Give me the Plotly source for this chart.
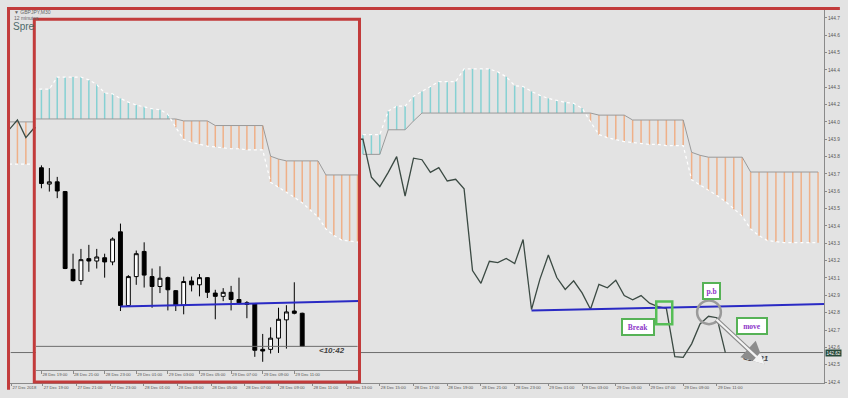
import plotly.graph_objects as go

# ---------------- data ----------------
# bar index: 0 = 27 Dec 19:00, one bar = 30 minutes
left_k = [-4, -3, -2, -1]
left_close = [144.040, 144.102, 143.990, 144.053]
pre_k = [38, 39, 40, 41, 42, 43, 44, 45, 46, 47]
pre_close = [143.98, 143.74, 143.68, 143.77, 143.87, 143.62, 143.86, 143.85, 143.77, 143.80]

candle_k = list(range(48, 82))
c_open = [143.820, 143.711, 143.726, 143.661, 143.141, 143.066, 143.213, 143.197, 143.219, 143.191,
          143.392, 142.900, 143.093, 143.261, 143.093, 143.027, 143.086, 142.999, 142.902, 143.064,
          143.038, 143.086, 142.983, 142.961, 142.988, 142.940, 142.918, 142.911, 142.607, 142.607,
          142.682, 142.804, 142.863, 142.848]
c_high = [143.836, 143.818, 143.759, 143.665, 143.246, 143.278, 143.305, 143.278, 143.246, 143.355,
          143.447, 143.103, 143.267, 143.322, 143.147, 143.162, 143.093, 143.003, 143.093, 143.093,
          143.110, 143.090, 143.005, 143.016, 143.031, 143.086, 142.929, 142.913, 142.710, 142.754,
          142.885, 142.902, 143.055, 142.852]
c_low = [143.683, 143.661, 143.617, 143.143, 143.060, 143.038, 143.125, 143.147, 143.086, 143.169,
         142.863, 142.896, 143.038, 143.020, 142.885, 142.983, 142.867, 142.863, 142.841, 142.994,
         142.961, 142.950, 142.808, 142.929, 142.867, 142.907, 142.815, 142.557, 142.524, 142.579,
         142.583, 142.612, 142.841, 142.623]
c_close = [143.715, 143.726, 143.665, 143.147, 143.066, 143.206, 143.197, 143.224, 143.191, 143.344,
           142.900, 143.093, 143.246, 143.103, 143.027, 143.082, 143.005, 142.902, 143.060, 143.038,
           143.086, 142.988, 142.961, 142.988, 142.940, 142.918, 142.907, 142.601, 142.596, 142.682,
           142.808, 142.857, 142.848, 142.627]

cloud_k = [-4, -3, -2, -1] + list(range(38, 93))
span_a = [143.822, 143.822, 143.822, 143.822,
          144.009, 144.009, 144.009, 144.158, 144.190, 144.190, 144.252, 144.283, 144.314, 144.345,
          144.345, 144.345, 144.426, 144.426, 144.426, 144.426, 144.407, 144.376, 144.320, 144.314,
          144.283, 144.258, 144.239, 144.227, 144.214, 144.208, 144.177, 144.090, 144.009, 143.990,
          143.978, 143.965, 143.959, 143.953, 143.947, 143.947, 143.940, 143.940, 143.940, 143.723,
          143.691, 143.654, 143.623, 143.586, 143.536, 143.492, 143.411, 143.368, 143.337, 143.330,
          143.324, 143.324, 143.324, 143.324, 143.324]
span_b = [144.090, 144.090, 144.090, 144.090,
          143.884, 143.884, 143.884, 144.040, 144.040, 144.040, 144.096, 144.146, 144.146, 144.146,
          144.146, 144.146, 144.146, 144.146, 144.146, 144.146, 144.146, 144.146, 144.146, 144.146,
          144.146, 144.146, 144.146, 144.146, 144.146, 144.146, 144.146, 144.146, 144.133, 144.133,
          144.133, 144.133, 144.102, 144.102, 144.102, 144.102, 144.102, 144.102, 144.102, 143.897,
          143.878, 143.866, 143.866, 143.866, 143.866, 143.866, 143.772, 143.772, 143.772, 143.772,
          143.772, 143.772, 143.772, 143.772, 143.772]

price_now = 142.627
trend_k = [58, 93]
trend_p = [142.893, 142.935]

price_ticks = [142.44, 142.55, 142.66, 142.77, 142.88, 142.99, 143.10, 143.21, 143.32, 143.43, 143.54,
               143.65, 143.76, 143.87, 143.98, 144.09, 144.20, 144.31, 144.42, 144.53, 144.64, 144.75]
main_tick_k = [-3.7, 0, 4, 8, 12, 16, 20, 24, 28, 32, 36, 40, 44, 48, 52, 56, 60, 64, 68, 72, 76, 80]
main_tick_text = ["27 Dec 2018", "27 Dec 19:00", "27 Dec 21:00", "27 Dec 23:00", "28 Dec 01:00",
                  "28 Dec 03:00", "28 Dec 05:00", "28 Dec 07:00", "28 Dec 09:00", "28 Dec 11:00",
                  "28 Dec 13:00", "28 Dec 15:00", "28 Dec 17:00", "28 Dec 19:00", "28 Dec 21:00",
                  "28 Dec 23:00", "29 Dec 01:00", "29 Dec 03:00", "29 Dec 05:00", "29 Dec 07:00",
                  "29 Dec 09:00", "29 Dec 11:00"]
inset_tick_k = [48, 52, 56, 60, 64, 68, 72, 76, 80]
inset_tick_text = ["28 Dec 19:00", "28 Dec 21:00", "28 Dec 23:00", "29 Dec 01:00", "29 Dec 03:00",
                   "29 Dec 05:00", "29 Dec 07:00", "29 Dec 09:00", "29 Dec 11:00"]

# ---------------- layout helpers ----------------
W, H = 848, 398
ML, MR, MT, MB = 10, 17, 10, 8
PW = W - ML - MR
PH = H - MT - MB


def px_x(x):
    return (x - ML) / PW


def px_y(y):
    return (H - MB - y) / PH


BG = "#e3e3e3"
RED = "#c23b3b"
TEAL = "#86d1d3"
ORANGE = "#efb088"

fig = go.Figure()


def add_cloud(xa, ya):
    tx, ty, ox, oy = [], [], [], []
    for k, a, b in zip(cloud_k, span_a, span_b):
        if a >= b:
            tx += [k, k, None]
            ty += [a, b, None]
        else:
            ox += [k, k, None]
            oy += [a, b, None]
    fig.add_trace(go.Scatter(x=tx, y=ty, mode="lines", line=dict(color=TEAL, width=1.5),
                             xaxis=xa, yaxis=ya, hoverinfo="skip"))
    fig.add_trace(go.Scatter(x=ox, y=oy, mode="lines", line=dict(color=ORANGE, width=1.5),
                             xaxis=xa, yaxis=ya, hoverinfo="skip"))
    gx, ga, gb = [], [], []
    prev = None
    for k, a, b in zip(cloud_k, span_a, span_b):
        if prev is not None and k - prev > 1:
            gx.append(None); ga.append(None); gb.append(None)
        gx.append(k); ga.append(a); gb.append(b)
        prev = k
    fig.add_trace(go.Scatter(x=gx, y=gb, mode="lines", line=dict(color="#9a9a9a", width=1),
                             xaxis=xa, yaxis=ya, connectgaps=False, hoverinfo="skip"))
    fig.add_trace(go.Scatter(x=gx, y=ga, mode="lines", line=dict(color="#ffffff", width=1.2, dash="dot"),
                             xaxis=xa, yaxis=ya, connectgaps=False, hoverinfo="skip"))


# ---------------- main chart ----------------
add_cloud("x", "y")
fig.add_trace(go.Scatter(x=[-3.8, 92.6], y=[price_now, price_now], mode="lines",
                         line=dict(color="#6e6e6e", width=1), xaxis="x", yaxis="y"))
fig.add_trace(go.Scatter(x=left_k + pre_k + candle_k, y=left_close + pre_close + c_close, mode="lines",
                         line=dict(color="#3b4a43", width=1.3), xaxis="x", yaxis="y"))
fig.add_trace(go.Scatter(x=trend_k, y=trend_p, mode="lines", line=dict(color="#2a2ac4", width=2),
                         xaxis="x", yaxis="y"))

# ---------------- inset chart ----------------
add_cloud("x2", "y2")
fig.add_trace(go.Scatter(x=[47.3, 88], y=[price_now, price_now], mode="lines",
                         line=dict(color="#6e6e6e", width=1), xaxis="x2", yaxis="y2"))
fig.add_trace(go.Candlestick(x=candle_k, open=c_open, high=c_high, low=c_low, close=c_close,
                             increasing=dict(line=dict(color="#000000", width=1), fillcolor="#ffffff"),
                             decreasing=dict(line=dict(color="#000000", width=1), fillcolor="#000000"),
                             xaxis="x2", yaxis="y2", hoverinfo="skip"))
fig.add_trace(go.Scatter(x=trend_k, y=trend_p, mode="lines", line=dict(color="#2a2ac4", width=2),
                         xaxis="x2", yaxis="y2"))

tickfont_x = dict(family="Liberation Sans", size=4.2, color="#555555")

fig.update_layout(
    width=W, height=H, margin=dict(l=ML, r=MR, t=MT, b=MB),
    paper_bgcolor=BG, plot_bgcolor=BG, showlegend=False, dragmode=False, hovermode=False,
    xaxis=dict(domain=[0, 1], range=[-3.882, 92.706], showgrid=False, zeroline=False,
               showline=True, linecolor="#8a8a8a", linewidth=1, ticks="outside", ticklen=2,
               tickcolor="#8a8a8a", tickvals=main_tick_k, ticktext=main_tick_text, tickangle=0,
               ticklabelposition="outside right", tickfont=tickfont_x, fixedrange=True),
    yaxis=dict(domain=[0, 1], range=[142.4338, 144.7997], side="right", showgrid=False,
               zeroline=False, showline=True, linecolor="#8a8a8a", linewidth=1, ticks="outside",
               ticklen=2, tickcolor="#8a8a8a", tickvals=price_ticks,
               ticktext=[("%.3f" % v)[:5] for v in price_ticks], fixedrange=True,
               tickfont=dict(family="Liberation Sans", size=4.8, color="#555555")),
    xaxis2=dict(domain=[px_x(36), px_x(361)], anchor="y2", range=[47.285, 88.06], showgrid=False,
                zeroline=False, showline=True, linecolor="#8a8a8a", linewidth=1, ticks="outside",
                ticklen=3, tickcolor="#8a8a8a", tickvals=inset_tick_k, ticktext=inset_tick_text,
                tickangle=0, ticklabelposition="outside right", tickfont=tickfont_x,
                rangeslider=dict(visible=False), fixedrange=True),
    yaxis2=dict(domain=[px_y(377), px_y(20)], anchor="x2", range=[142.4675, 144.8082],
                showgrid=False, zeroline=False, showline=False, showticklabels=False, ticks="",
                fixedrange=True),
)

# frames (outer frame: only its top and left edges fall inside the picture)
fig.add_shape(type="line", xref="paper", yref="paper", x0=px_x(7), x1=px_x(847), y0=px_y(8.5),
              y1=px_y(8.5), line=dict(color=RED, width=3), layer="above")
fig.add_shape(type="line", xref="paper", yref="paper", x0=px_x(8.5), x1=px_x(8.5), y0=px_y(397),
              y1=px_y(7), line=dict(color=RED, width=3), layer="above")
fig.add_shape(type="rect", xref="paper", yref="paper", x0=px_x(34.5), x1=px_x(362.5), y0=px_y(389),
              y1=px_y(19.5), line=dict(color=RED, width=3), layer="above")

# markup on main chart
fig.add_shape(type="rect", xref="x", yref="y", x0=72.8, x1=74.7, y0=142.807, y1=142.951,
              line=dict(color="#56be56", width=2.5))
fig.add_shape(type="circle", xref="x", yref="y", x0=77.65, x1=80.47, y0=142.807, y1=142.957,
              line=dict(color="#9a9a9a", width=2.5))

lab_font = dict(family="Liberation Serif", size=7.5, color="#8e35c9")
for txt, xk, yp, w in [("Break", 70.65, 142.786, 28), ("p.b", 79.3, 143.016, 13), ("move", 84.2, 142.798, 26)]:
    fig.add_annotation(x=xk, y=yp, xref="x", yref="y", text="<b>%s</b>" % txt, showarrow=False,
                       font=lab_font, bgcolor="#ffffff", bordercolor="#56b256", borderwidth=2,
                       borderpad=1, width=w, height=12)

fig.add_annotation(x=82.8, y=142.589, xref="x", yref="y", text="<b><i>&lt;12:21</i></b>",
                   showarrow=False, xanchor="left", font=dict(family="Liberation Sans", size=8, color="#444444"))
for col, wd in [("#8c8c8c", 4.5), ("#f4f4f4", 2.2)]:
    fig.add_annotation(x=85.65, y=142.552, ax=79.76, ay=142.845, xref="x", yref="y", axref="x", ayref="y",
                       text="", showarrow=True, arrowhead=2, arrowsize=1, arrowwidth=wd, arrowcolor=col)

fig.add_annotation(x=82.9, y=142.5986, xref="x2", yref="y2", text="<b><i>&lt;10:42</i></b>",
                   showarrow=False, xanchor="left", font=dict(family="Liberation Sans", size=8, color="#444444"))

# current price tag on the right axis
fig.add_annotation(x=1, y=price_now, xref="paper", yref="y", text=("%.3f" % price_now)[:6], showarrow=False,
                   xanchor="left", xshift=1, font=dict(family="Liberation Sans", size=4.5, color="#ffffff"),
                   bgcolor="#284a3b", borderpad=0.5)

# header texts
fig.add_annotation(x=px_x(12), y=px_y(12), xref="paper", yref="paper", text="▼ GBPJPY,M30",
                   showarrow=False, xanchor="left", yanchor="middle",
                   font=dict(family="Liberation Sans", size=5, color="#666666"))
fig.add_annotation(x=px_x(12), y=px_y(18), xref="paper", yref="paper", text="12 minutes",
                   showarrow=False, xanchor="left", yanchor="middle",
                   font=dict(family="Liberation Sans", size=5, color="#666666"))
fig.add_annotation(x=px_x(11), y=px_y(27), xref="paper", yref="paper", text="Spre",
                   showarrow=False, xanchor="left", yanchor="middle",
                   font=dict(family="Liberation Sans", size=10, color="#4e6b6b"))

js = ("document.documentElement.style.overflow='hidden';"
      "document.documentElement.style.background='%s';"
      "document.body.style.overflow='hidden';"
      "document.body.style.margin='0px';"
      "document.body.style.background='%s';"
      "var gds=document.getElementsByClassName('plotly-graph-div');"
      "for(var i=0;i<gds.length;i++){var s=gds[i].style;s.overflow='hidden';s.position='fixed';"
      "s.left='0px';s.top='0px';s.width='%dpx';s.height='%dpx';}"
      "window.scrollTo(0,0);" % (BG, BG, W, H))
fig.write_html("out.html", config={"displayModeBar": False, "responsive": False, "staticPlot": True},
               post_script=js)
